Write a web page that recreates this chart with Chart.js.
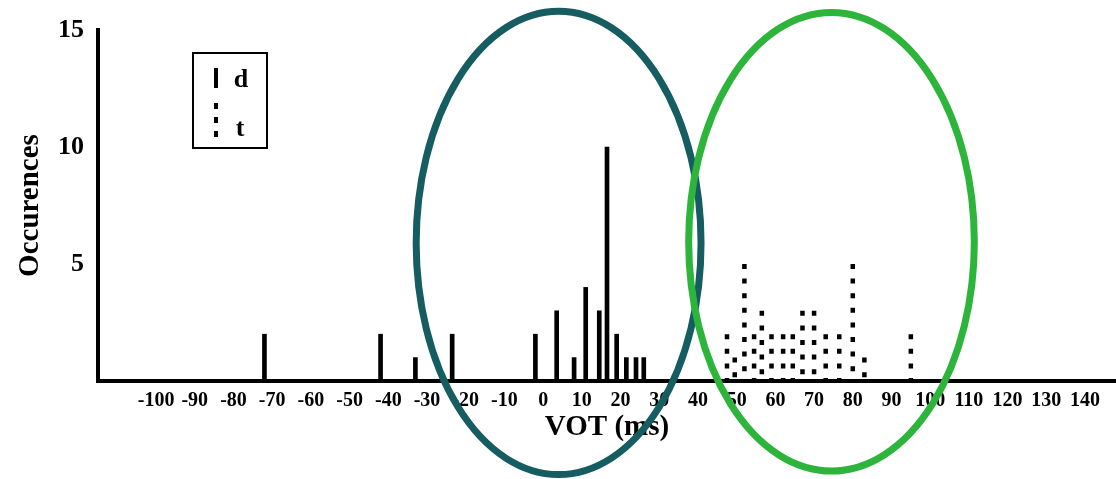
<!DOCTYPE html>
<html>
<head>
<meta charset="utf-8">
<script src="https://cdn.jsdelivr.net/npm/chart.js@4/dist/chart.umd.min.js"></script>
<style>
    html, body { margin: 0; padding: 0; background: #fff; }
    #wrap { width: 1116px; height: 479px; position: relative; }
</style>
</head>
<body>
<div id="wrap"><canvas id="votChart"></canvas></div>
<script>
'use strict';

// VOT values (ms) and occurrence counts, /d/ tokens
const dVot = [-72, -42, -33, -23.5, -2, 3.5, 8, 11, 14.5, 16.5, 19, 21.5, 24, 26];
const dCount = [2, 2, 1, 2, 2, 3, 1, 4, 3, 10, 2, 1, 1, 1];

// VOT values (ms) and occurrence counts, /t/ tokens
const tVot = [47.5, 49.5, 52, 54.5, 56.5, 59, 62, 64.5, 67, 70, 73, 76.5, 80, 83, 95];
const tCount = [2, 1, 5, 2, 3, 2, 2, 2, 3, 3, 2, 2, 5, 1, 2];

// Axis ticks
const xTicks = [-100, -90, -80, -70, -60, -50, -40, -30, -20, -10, 0, 10, 20, 30, 40, 50, 60, 70, 80, 90, 100, 110, 120, 130, 140];
const yTicks = [5, 10, 15];

// Highlight ellipses, in data units (centre VOT, centre count, radii)
const ellipses = [
    { cx: 4, cy: 5.9, rx: 36.8, ry: 9.9, color: '#155d61' },
    { cx: 74.5, cy: 5.95, rx: 36.9, ry: 9.8, color: '#2cb53a' }
];

const serif = "'Liberation Serif', 'Times New Roman', serif";

// Build chart data from the arrays
const dPoints = dVot.map((v, i) => ({ x: v, y: dCount[i] }));
// each dotted bar is a short line from its top down to zero, gaps between them
const tPoints = [];
tVot.forEach((v, i) => {
    tPoints.push({ x: v, y: tCount[i] }, { x: v, y: 0 }, { x: v, y: null });
});

// Boxed legend in the upper left of the plot
const boxLegend = {
    id: 'boxLegend',
    afterDraw(chart) {
        const { ctx, chartArea } = chart;
        const x0 = chartArea.left + 95;
        const y0 = chartArea.top + 23;
        ctx.save();
        ctx.strokeStyle = '#000';
        ctx.lineWidth = 2;
        ctx.strokeRect(x0, y0, 74, 95);

        // solid mark for d
        ctx.lineWidth = 4;
        ctx.beginPath();
        ctx.moveTo(x0 + 23, y0 + 35);
        ctx.lineTo(x0 + 23, y0 + 15);
        ctx.stroke();

        // dotted mark for t
        ctx.setLineDash([6, 8]);
        ctx.beginPath();
        ctx.moveTo(x0 + 23, y0 + 84);
        ctx.lineTo(x0 + 23, y0 + 48);
        ctx.stroke();
        ctx.setLineDash([]);

        ctx.fillStyle = '#000';
        ctx.font = 'bold 26px ' + serif;
        ctx.textAlign = 'center';
        ctx.textBaseline = 'alphabetic';
        ctx.fillText(chart.data.datasets[0].label, x0 + 48, y0 + 34);
        ctx.fillText(chart.data.datasets[1].label, x0 + 47, y0 + 83);
        ctx.restore();
    }
};

// Ellipse annotations placed through the scales
const ellipseMarks = {
    id: 'ellipseMarks',
    afterDraw(chart) {
        const { ctx } = chart;
        const xs = chart.scales.x;
        const ys = chart.scales.y;
        ctx.save();
        ctx.lineWidth = 7;
        ellipses.forEach(e => {
            const cx = xs.getPixelForValue(e.cx);
            const cy = ys.getPixelForValue(e.cy);
            const rx = xs.getPixelForValue(e.cx + e.rx) - cx;
            const ry = cy - ys.getPixelForValue(e.cy + e.ry);
            ctx.strokeStyle = e.color;
            ctx.beginPath();
            ctx.ellipse(cx, cy, rx, ry, 0, 0, Math.PI * 2);
            ctx.stroke();
        });
        ctx.restore();
    }
};

new Chart(document.getElementById('votChart').getContext('2d'), {
    type: 'bar',
    data: {
        datasets: [{
            type: 'bar',
            label: 'd',
            data: dPoints,
            backgroundColor: '#000',
            barThickness: 4,
            grouped: false
        }, {
            type: 'line',
            label: 't',
            data: tPoints,
            borderColor: '#000',
            borderWidth: 4.5,
            borderDash: [5, 9.6],
            borderCapStyle: 'butt',
            pointRadius: 0,
            spanGaps: false,
            tension: 0
        }]
    },
    options: {
        responsive: true,
        maintainAspectRatio: false,
        animation: false,
        layout: { padding: { top: 30, right: 0, left: 0, bottom: 0 } },
        scales: {
            x: {
                type: 'linear',
                min: -115,
                max: 148,
                offset: false,
                afterBuildTicks(scale) {
                    scale.ticks = xTicks.map(v => ({ value: v }));
                },
                afterFit(scale) {
                    scale.height = 98;
                },
                grid: { display: false, drawTicks: false },
                border: { display: true, color: '#000', width: 4 },
                ticks: {
                    color: '#000',
                    padding: 8,
                    maxRotation: 0,
                    autoSkip: false,
                    font: { family: serif, size: 20, weight: 'bold' }
                },
                title: {
                    display: true,
                    text: 'VOT (ms)',
                    color: '#000',
                    padding: { top: 0, bottom: 34 },
                    font: { family: serif, size: 29, weight: 'bold' }
                }
            },
            y: {
                min: 0,
                max: 15,
                afterBuildTicks(scale) {
                    scale.ticks = yTicks.map(v => ({ value: v }));
                },
                afterFit(scale) {
                    scale.width = 98;
                },
                grid: { display: false, drawTicks: false },
                border: { display: true, color: '#000', width: 4 },
                ticks: {
                    color: '#000',
                    padding: 14,
                    font: { family: serif, size: 26, weight: 'bold' }
                },
                title: {
                    display: true,
                    text: 'Occurences',
                    color: '#000',
                    padding: { top: 13, bottom: 0 },
                    font: { family: serif, size: 29, weight: 'bold' }
                }
            }
        },
        plugins: {
            legend: { display: false },
            tooltip: { enabled: false }
        }
    },
    plugins: [boxLegend, ellipseMarks]
});
</script>
</body>
</html>
